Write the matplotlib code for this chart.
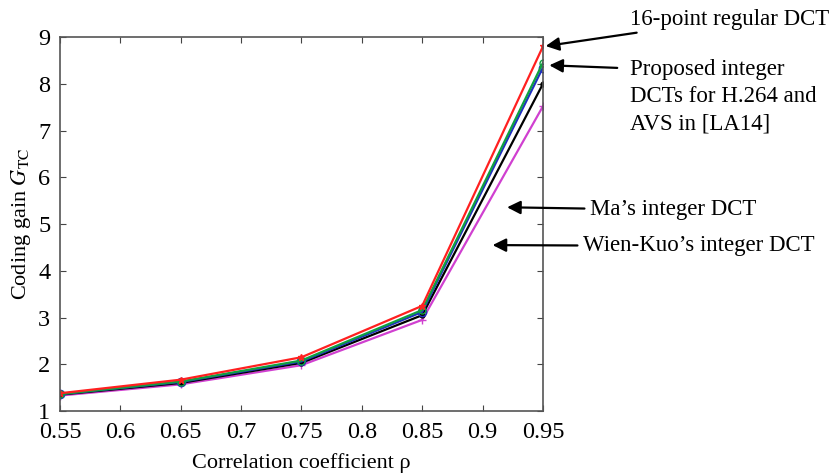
import numpy as np
import matplotlib
matplotlib.use("Agg")
import matplotlib.pyplot as plt

plt.rcParams['font.family'] = ['Liberation Serif', 'DejaVu Serif']
plt.rcParams['mathtext.fontset'] = 'stix'

# correlation coefficient
rho = [0.55, 0.65, 0.75, 0.85, 0.95]
# coding gain for each transform
regular16 = [1.38, 1.67, 2.15, 3.25, 8.80]
proposed_green = [1.36, 1.63, 2.08, 3.16, 8.45]
proposed_blue = [1.36, 1.62, 2.06, 3.12, 8.35]
ma_dct = [1.35, 1.60, 2.03, 3.05, 8.00]
wienkuo_dct = [1.33, 1.57, 1.98, 2.95, 7.52]

xticks = [0.55, 0.6, 0.65, 0.7, 0.75, 0.8, 0.85, 0.9, 0.95]
yticks = [1, 2, 3, 4, 5, 6, 7, 8, 9]

fig = plt.figure(figsize=(8.34, 4.76), dpi=100)
ax = fig.add_axes([0.072, 0.1366, 0.579, 0.7854])

ax.plot(rho, wienkuo_dct, color='#d040d0', marker='+', ms=6, lw=1.6)
ax.plot(rho, ma_dct, color='black', marker='.', ms=7, lw=1.6)
ax.plot(rho, proposed_blue, color='#2030c0', marker='o', ms=6, mfc='none', lw=1.6)
ax.plot(rho, proposed_green, color='#10a040', marker='o', ms=5, mfc='none', lw=1.6)
ax.plot(rho, regular16, color='#ff2020', marker='*', ms=5, lw=1.6)

ax.set_xlim(0.55, 0.95)
ax.set_ylim(1, 9)
ax.set_xticks(xticks)
ax.set_xticklabels([f'{t:g}' for t in xticks])
ax.set_yticks(yticks)
ax.tick_params(direction='in', top=True, right=True, labelsize=17.5, length=4, color='#444444')
ax.tick_params(axis='x', pad=8)
ax.tick_params(axis='y', pad=7)
for s in ax.spines.values():
    s.set_color('#555555')
    s.set_linewidth(1.2)

ax.set_xlabel('Correlation coefficient ρ', fontsize=16, labelpad=7)
ax.set_ylabel(r'Coding gain $G_{\mathrm{TC}}$', fontsize=16, labelpad=4)

arrow = dict(arrowstyle='-|>', color='black', lw=1.6, mutation_scale=20)
ax.annotate('16-point regular DCT', xy=(0.95, 8.8), xycoords='data',
            xytext=(630, 457), textcoords='figure pixels', fontsize=16.5,
            va='center', ha='left', arrowprops=arrow, annotation_clip=False)
ax.annotate('Proposed integer\nDCTs for H.264 and\nAVS in [LA14]', xy=(0.953, 8.4), xycoords='data',
            xytext=(630, 417), textcoords='figure pixels', fontsize=16.5,
            va='top', ha='left', linespacing=1.4, annotation_clip=False)
ax.annotate('', xy=(0.953, 8.4), xycoords='data',
            xytext=(620, 408), textcoords='figure pixels',
            arrowprops=arrow, annotation_clip=False)
ax.annotate("Ma’s integer DCT", xy=(0.918, 5.36), xycoords='data',
            xytext=(590, 266), textcoords='figure pixels', fontsize=16.5,
            va='center', ha='left', arrowprops=arrow, annotation_clip=False)
ax.annotate("Wien-Kuo’s integer DCT", xy=(0.906, 4.55), xycoords='data',
            xytext=(583, 230), textcoords='figure pixels', fontsize=16.5,
            va='center', ha='left', arrowprops=arrow, annotation_clip=False)

plt.savefig('out.png', dpi=100)
